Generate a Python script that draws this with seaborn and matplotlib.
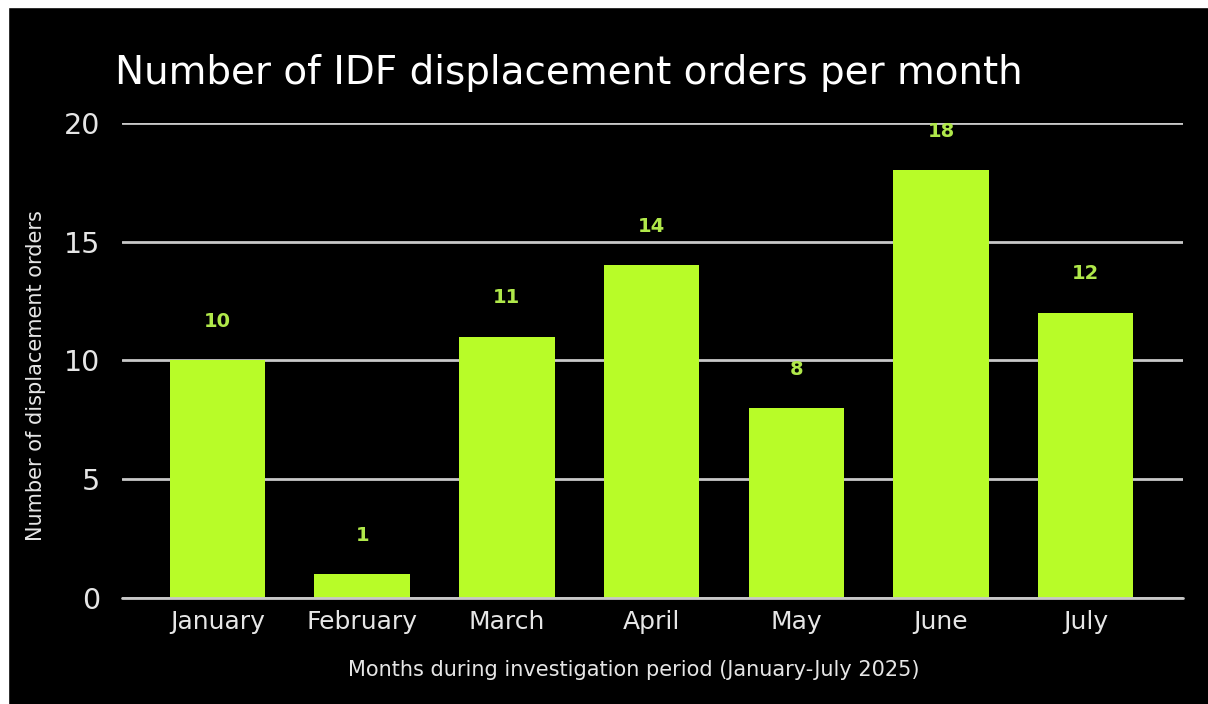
import pandas as pd
import matplotlib.pyplot as plt
import seaborn as sns
from matplotlib.patches import Rectangle

months = ['January', 'February', 'March', 'April', 'May', 'June', 'July']
orders = [10, 1, 11, 14, 8, 18, 12]
y_ticks = [0, 5, 10, 15, 20]

bar_color = '#b8fc28'
label_color = '#b0e84a'
text_color = '#e6e6e6'
grid_color = '#c8c8c8'

sns.set_theme(style='dark')
plt.rcParams['font.family'] = ['DejaVu Sans']

df = pd.DataFrame({'month': months, 'orders': orders})

fig = plt.figure(figsize=(12.08, 7.04), dpi=100, facecolor='black')
fig.patch.set_linewidth(0)
# thin white frame on the left and top edges
fig.patches.append(Rectangle((0, 0), 8 / 1208, 1, transform=fig.transFigure, color='white', zorder=0))
fig.patches.append(Rectangle((0, 697 / 704), 1, 7 / 704, transform=fig.transFigure, color='white', zorder=0))

ax = fig.add_axes([0.101, 0.1506, 0.878, 0.675])
ax.set_facecolor('black')

sns.barplot(data=df, x='month', y='orders', color=bar_color, saturation=1, width=0.66,
            linewidth=0, ax=ax, zorder=3)

for i, v in enumerate(orders):
    ax.annotate(str(v), (i, v), xytext=(0, 28), textcoords='offset points',
                ha='center', va='center', color=label_color, fontsize=14,
                fontweight='bold', zorder=4)

ax.set_ylim(0, 20)
ax.set_xlim(-0.66, 6.67)
ax.set_yticks(y_ticks)
ax.yaxis.grid(True, color=grid_color, linewidth=2, zorder=1)
ax.xaxis.grid(False)
for s in ax.spines.values():
    s.set_visible(False)
ax.axhline(0, color=grid_color, linewidth=2, zorder=5, clip_on=False)
ax.tick_params(axis='y', length=0, pad=16, labelsize=20.5, labelcolor=text_color)
ax.tick_params(axis='x', length=0, pad=9, labelsize=18, labelcolor=text_color)

ax.set_ylabel('Number of displacement orders', color=text_color, fontsize=15)
ax.set_xlabel('Months during investigation period (January-July 2025)', color=text_color,
              fontsize=15)
ax.yaxis.set_label_coords(-0.0716, 0.469)
ax.xaxis.set_label_coords(0.4826, -0.130)

fig.text(115 / 1208, 1 - 73 / 704, 'Number of IDF displacement orders per month',
         color='white', fontsize=28, ha='left', va='center')

fig.savefig('out.png', dpi=100, facecolor=fig.get_facecolor())
